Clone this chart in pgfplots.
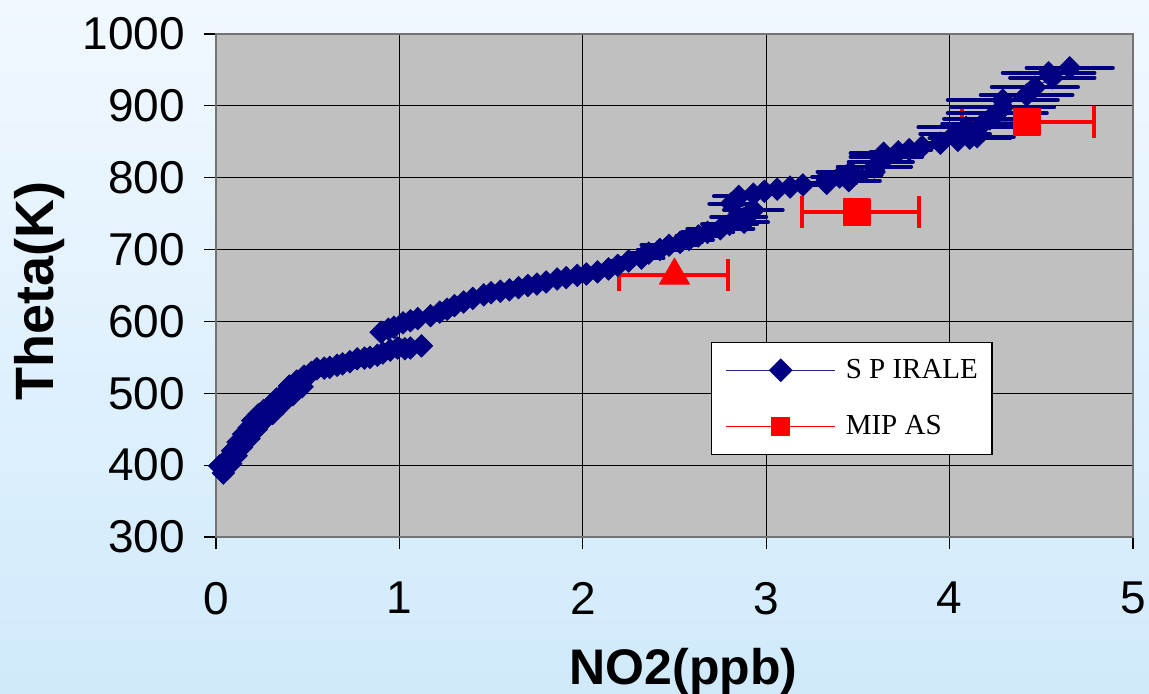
\documentclass[border=0pt]{standalone}
\usepackage{fontspec}
\setmainfont{Liberation Sans}
\newfontfamily\legfont{Liberation Serif}
\usepackage{pgfplots}
\usepackage{pgfplotstable}
\pgfplotsset{compat=1.18}

\definecolor{navy}{RGB}{0,0,128}
\definecolor{plotgray}{RGB}{192,192,192}
\definecolor{bgtop}{RGB}{241,248,255}
\definecolor{bgbot}{RGB}{208,234,251}

% SPIRALE balloon profile: NO2 (ppb), potential temperature (K), NO2 uncertainty (ppb)
\pgfplotstableread{
x y e
0.04 389 0
0.02 399 0
0.08 402 0
0.06 408 0
0.11 413 0
0.09 420 0
0.14 425 0
0.12 432 0
0.18 437 0
0.15 443 0
0.22 450 0
0.18 452 0
0.20 462 0
0.26 462 0
0.23 470 0
0.31 472 0
0.26 476 0
0.30 484 0
0.36 485 0
0.33 492 0
0.37 500 0
0.42 498 0
0.40 510 0
0.47 509 0
0.44 517 0
0.48 524 0
0.52 529 0
0.55 534 0
0.59 535 0
0.62 536 0
0.66 539 0
0.69 541 0
0.73 544 0
0.77 548 0
0.81 549 0
0.84 550 0
0.88 553 0
0.91 556 0
0.95 560 0
0.99 563 0
1.03 562 0
1.06 563 0
1.12 566 0
0.90 585 0
0.94 589 0
0.97 592 0
1.02 598 0
1.06 601 0
1.10 604 0
1.17 608 0
1.22 613 0
1.26 617 0
1.30 622 0
1.35 627 0
1.40 632 0
1.46 637 0
1.50 640 0
1.55 642 0
1.60 644 0
1.65 647 0
1.70 650 0
1.75 652 0
1.80 655 0
1.86 659 0
1.91 661 0
1.97 664 0
2.02 666 0
2.08 669 0.04
2.14 673 0.06
2.19 678 0.08
2.25 684 0.10
2.32 688 0.12
2.36 695 0.10
2.42 700 0.12
2.47 706 0.15
2.53 710 0.12
2.58 714 0.13
2.63 719 0.12
2.68 724 0.14
2.75 729 0.18
2.80 735 0.15
2.88 738 0.13
2.85 745 0.15
2.93 755 0.16
2.81 764 0.12
2.85 774 0.135
2.93 777 0.10
2.99 781 0.08
3.06 784 0.08
3.13 787 0.10
3.20 790 0.12
3.33 792 0.16
3.45 796 0.17
3.40 801 0.15
3.46 804 0.17
3.46 808 0.18
3.59 815 0.20
3.625 822 0.175
3.655 829 0.195
3.64 834 0.18
3.72 836 0.15
3.78 839 0.12
3.85 843 0.08
3.95 848 0.12
4.045 852 0.135
4.11 855 0.22
4.15 857 0.20
4.03 861 0.19
4.09 870 0.26
4.18 875 0.22
4.22 882 0.25
4.26 890 0.27
4.29 898 0.28
4.29 908 0.30
4.42 915 0.25
4.465 926 0.235
4.56 939 0.23
4.54 946 0.25
4.655 953 0.235
}\spirale

% MIPAS retrievals: NO2 (ppb), theta (K), lower and upper uncertainty (ppb)
\pgfplotstableread{
x y em ep
2.50 664 0.305 0.29
}\mipastri
\pgfplotstableread{
x y em ep
3.495 752 0.30 0.34
4.42 878 0.35 0.37
}\mipassq

\begin{document}
\begin{tikzpicture}
\shade[top color=bgtop, bottom color=bgbot] (0,0) rectangle (574.5pt,347pt);
\begin{axis}[
  at={(108pt,78.5pt)}, anchor=south west,
  scale only axis, width=458.5pt, height=251.5pt,
  xmin=0, xmax=5, ymin=300, ymax=1000,
  xtick={0,1,2,3,4,5}, ytick={300,400,...,1000},
  tick pos=left, tick align=outside, major tick length=6pt,
  tick style={black, line width=0.6pt},
  grid=major, major grid style={black, line width=0.55pt},
  axis background/.style={fill=plotgray},
  axis line style={draw=black!55, line width=1.3pt},
  clip=false,
  /pgf/number format/assume math mode=true,
  /pgf/number format/set thousands separator={},
  tick label style={font=\fontsize{23}{23}\selectfont},
  xticklabel style={yshift=-13pt},
  yticklabel style={xshift=-6pt},
  xlabel={NO2(ppb)}, ylabel={Theta(K)},
  xlabel style={font=\fontsize{25}{25}\selectfont\bfseries,
    at={(axis description cs:0.51,-0.294)}, anchor=base},
  ylabel style={font=\fontsize{27}{27}\selectfont\bfseries,
    at={(axis description cs:-0.192,0.489)}, anchor=center},
  legend style={at={(axis cs:2.699,571.8)}, anchor=north west,
    draw=black, line width=0.6pt, fill=white,
    font=\legfont\fontsize{14.5}{14.5}\selectfont,
    inner xsep=7pt, inner ysep=0pt, row sep=0pt, column sep=5pt,
    nodes={minimum height=28pt, inner xsep=0pt, inner ysep=0pt}},
  legend cell align=left,
  legend image code/.code={
    \draw[mark repeat=2, mark phase=2, #1]
      plot coordinates {(0pt,0pt) (27.25pt,0pt) (54.5pt,0pt)};},
]
% MIPAS uncertainty bars (drawn beneath the balloon profile)
\addplot[draw=none, mark=none, forget plot,
  error bars/.cd, x dir=both, x explicit, error mark=-,
  error bar style={red, line width=2pt},
  error mark options={red, rotate=90, line width=2pt, mark size=8pt}]
  table[x=x, y=y, x error plus=ep, x error minus=em] {\mipastri};
\addplot[draw=none, mark=none, forget plot,
  error bars/.cd, x dir=both, x explicit, error mark=-,
  error bar style={red, line width=2pt},
  error mark options={red, rotate=90, line width=2pt, mark size=8pt}]
  table[x=x, y=y, x error plus=ep, x error minus=em] {\mipassq};
% SPIRALE profile
\addplot[navy, line width=0.5pt, mark=square*, mark size=4.0pt,
  mark options={rotate=45, fill=navy, draw=navy, line width=0.3pt},
  forget plot,
  error bars/.cd, x dir=both, x explicit, error mark=none,
  error bar style={navy, line width=2pt, line cap=round}]
  table[x=x, y=y, x error=e] {\spirale};
% MIPAS markers
\addplot[only marks, mark=triangle*, mark size=8.7pt, red,
  mark options={fill=red, draw=red, line join=round}, forget plot]
  table[x=x, y=y] {\mipastri};
\addplot[only marks, mark=square*, mark size=6.6pt, red,
  mark options={fill=red, draw=red, line join=round, line width=0.8pt},
  forget plot]
  table[x=x, y=y] {\mipassq};
\addlegendimage{navy!85!white, line width=0.6pt, mark=square*, mark size=3.9pt,
  mark options={rotate=45, fill=navy, draw=navy}}
\addlegendentry{S P IRALE}
\addlegendimage{red, line width=0.6pt, mark=square*, mark size=4.5pt,
  mark options={fill=red, draw=red, line join=round}}
\addlegendentry{MIP AS}
\end{axis}
\pgfresetboundingbox
\useasboundingbox (0,0) rectangle (574.5pt,347pt);
\end{tikzpicture}
\end{document}
